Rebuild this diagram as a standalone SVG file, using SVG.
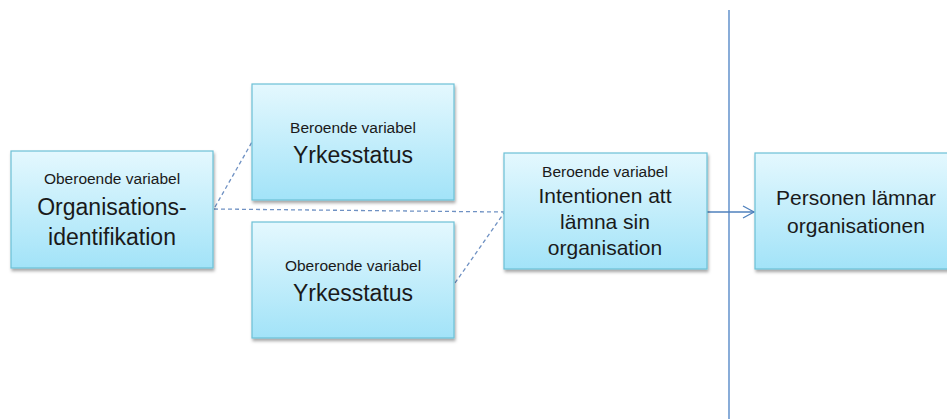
<svg xmlns="http://www.w3.org/2000/svg" width="947" height="419" viewBox="0 0 947 419">
  <defs>
    <linearGradient id="boxFill" x1="0" y1="0" x2="0" y2="1">
      <stop offset="0" stop-color="#e4f8fe"/>
      <stop offset="1" stop-color="#a2e3f8"/>
    </linearGradient>
    <filter id="shadow" x="-10%" y="-10%" width="125%" height="130%">
      <feDropShadow dx="1" dy="2.5" stdDeviation="1.6" flood-color="#000" flood-opacity="0.35"/>
    </filter>
    <marker id="openArrow" markerWidth="14" markerHeight="14" refX="12" refY="7" orient="auto" markerUnits="userSpaceOnUse">
      <path d="M1,1 L12,7 L1,13" fill="none" stroke="#4f81bd" stroke-width="1.3"/>
    </marker>
  </defs>
  <style>
    .box { fill: url(#boxFill); stroke: #6cc0d6; stroke-width: 1.2; filter: url(#shadow); }
    text { font-family: "Liberation Sans", Arial, sans-serif; fill: #1a1a1a; text-anchor: middle; }
    .small { font-size: 15.5px; }
    .big { font-size: 23px; }
    .mid { font-size: 21px; }
    .dashed { fill: none; stroke: #6f91c3; stroke-width: 1.3; stroke-dasharray: 4 3; }
    .solid { fill: none; stroke: #4f81bd; stroke-width: 1.3; }
  </style>

  <rect width="947" height="419" fill="#ffffff"/>

  <!-- divider -->
  <line x1="729" y1="10" x2="729" y2="419" stroke="#4a80c4" stroke-width="1.3"/>

  <g id="connectors">
    <line class="dashed" x1="214" y1="209" x2="504" y2="212"/>
    <line class="dashed" x1="215" y1="207" x2="252" y2="142"/>
    <line class="dashed" x1="455" y1="283" x2="504" y2="213"/>
    <line class="solid" x1="707" y1="212" x2="754" y2="212" marker-end="url(#openArrow)"/>
  </g>

  <g id="org-identifikation">
    <rect class="box" x="11" y="151" width="202" height="117"/>
    <text class="small" x="112" y="184">Oberoende variabel</text>
    <text class="big" x="112" y="215">Organisations-</text>
    <text class="big" x="112" y="245">identifikation</text>
  </g>

  <g id="yrkesstatus-beroende">
    <rect class="box" x="252" y="84" width="202" height="116"/>
    <text class="small" x="353" y="133">Beroende variabel</text>
    <text class="big" x="353" y="163">Yrkesstatus</text>
  </g>

  <g id="yrkesstatus-oberoende">
    <rect class="box" x="252" y="222" width="202" height="116"/>
    <text class="small" x="353" y="271">Oberoende variabel</text>
    <text class="big" x="353" y="301">Yrkesstatus</text>
  </g>

  <g id="intentionen">
    <rect class="box" x="504" y="153" width="203" height="116"/>
    <text class="small" x="605" y="177">Beroende variabel</text>
    <text class="mid" x="605" y="203">Intentionen att</text>
    <text class="mid" x="605" y="229">lämna sin</text>
    <text class="mid" x="605" y="255">organisation</text>
  </g>

  <g id="lamnar">
    <rect class="box" x="755" y="153" width="203" height="116"/>
    <text class="mid" x="856" y="205">Personen lämnar</text>
    <text class="mid" x="856" y="233">organisationen</text>
  </g>
</svg>
